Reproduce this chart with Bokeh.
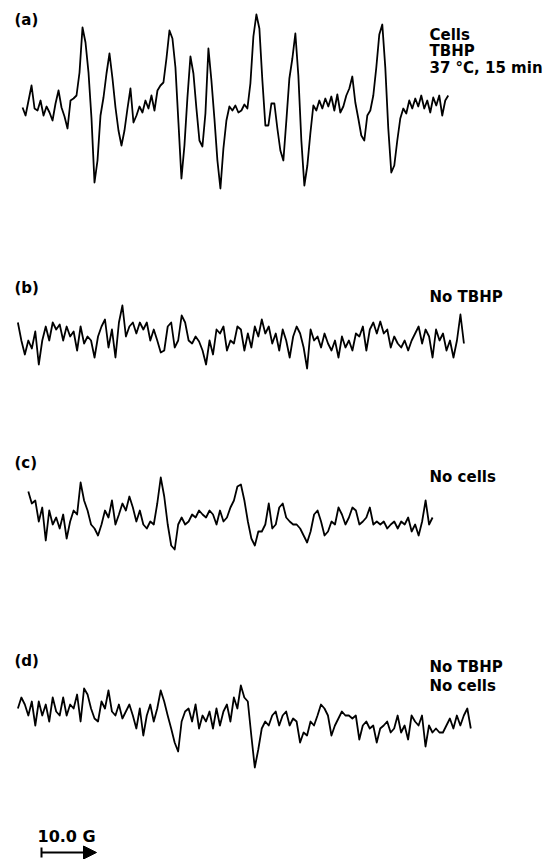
import numpy as np
from bokeh.plotting import figure
from bokeh.models import Range1d, Label, Arrow, NormalHead, TeeHead, ColumnDataSource
from bokeh.embed import file_html
from bokeh.resources import INLINE

# ---------------- data ----------------
# field sweep of each trace (G, relative field)
field_a = (1.1, 78.5)
field_b = (0.25, 81.35)
field_c = (2.15, 75.65)
field_d = (0.25, 82.6)

# EPR signal intensities (arbitrary units), evenly sampled along the sweep
int_a = [3, -5, 10, 25, 2, 0, 10, -5, 4, -2, -10, 7, 20, 3, -6, -18, 10, 12, 15, 38,
         83, 68, 38, -8, -72, -50, -5, 13, 37, 57, 32, 3, -20, -35, -20, 2, 22, -12, -5, 4,
         -2, 10, 2, 15, 0, 20, 25, 28, 52, 80, 72, 43, -12, -68, -35, 13, 54, 37, 2, -30,
         -36, -3, 62, 30, -8, -50, -78, -38, -10, 4, 0, 5, -2, 0, 6, 2, 27, 74, 96, 82,
         30, -15, -15, 7, 7, -18, -40, -50, -10, 32, 52, 77, 35, -30, -75, -55, -23, 5, 0, 10,
         2, 12, 4, 14, 0, 16, -2, 4, 15, 22, 34, 8, -8, -25, -30, -5, 0, 15, 43, 76,
         86, 43, -18, -62, -55, -30, -8, 2, -3, 10, 2, 12, 4, 15, 2, 10, -2, 13, 5, 15,
         -5, 10, 15]

int_b = [16, -2, -16, -2, -10, 7, -26, -2, 12, -2, 16, 9, 14, -2, 12, 2, 7, -12, 12, -5,
         2, -2, -19, 2, 12, 19, -9, 9, -19, 16, 33, 2, 12, 16, 5, 16, 9, 16, -2, 9,
         -2, -14, -12, 12, 16, -9, -2, 23, 16, -2, -5, 2, -3, -12, -26, -2, -16, 9, 5, 12,
         -12, -2, -5, 12, 9, -12, 5, -9, 12, 2, 19, 5, 12, -5, 5, -12, 9, -2, -19, 2,
         12, 5, -9, -30, 9, -2, 2, -9, 5, -5, -12, -2, -19, 2, -9, -2, -12, 5, 2, 12,
         -12, 9, 16, 5, 17, 5, 9, -9, 2, -5, -9, -2, -12, -2, 5, 12, -5, 9, 2, -19,
         9, -2, 5, -12, -2, -19, -2, 24, -5]

int_c = [28, 16, 19, -2, 12, -21, 9, -5, 2, -9, 5, -19, -2, 9, 5, 37, 19, 9, -5, -9,
         -16, -5, 9, 2, 19, -5, 5, 16, 9, 23, 12, -2, 9, -5, -9, -2, -5, 16, 42, 23,
         -5, -26, -30, -5, 2, -5, -2, 5, 2, 9, 5, 2, 9, 5, -5, 9, -2, 2, 12, 19,
         33, 35, 19, -2, -19, -26, -12, -12, -5, 16, -9, -5, 12, 16, 2, -2, -5, -5, -9, -16,
         -23, -12, 5, 9, -2, -16, -12, -2, -5, 12, 5, -5, 2, 12, 9, -5, -2, 2, 12, -5,
         -2, -5, -2, -9, -5, -2, -9, -2, -5, 2, -12, -5, -16, -2, 19, -5, 2]

int_d = [10, 21, 14, 3, 17, -7, 17, 3, 14, -3, 21, 7, 3, 21, 3, 14, 10, 24, -3, 30,
         24, 10, 0, -3, 17, 10, 28, 7, 3, 14, 0, 7, 14, 3, -10, 10, -17, 3, 14, -3,
         10, 28, 17, 3, -10, -24, -33, -3, 7, 10, -3, 14, -10, 3, -3, 7, -10, 10, -7, 7,
         14, -3, 21, 10, 33, 21, 17, -17, -49, -31, -10, -3, -7, 3, 7, -7, 3, 7, -7, 0,
         -3, -24, -14, -17, -3, -7, 3, 14, 10, 3, -17, -7, 0, 7, 3, 3, 0, 3, -21, -7,
         -3, -10, -7, -24, -10, -7, -3, -14, -10, 3, -14, -7, -21, 3, -3, -7, 3, -28, -7, -14,
         -10, -14, -14, -7, 0, -10, 3, -7, 3, 10, -10]

trace_names = ["(a)", "(b)", "(c)", "(d)"]
trace_notes = [["Cells", "TBHP", "37 \u00b0C, 15 min"], ["No TBHP"], ["No cells"], ["No TBHP", "No cells"]]
scale_bar_gauss = 10.0
scale_bar_text = "10.0 G"

# ---------------- layout helpers ----------------
W, H = 547, 859
PX_PER_G = 5.5
FIELD0_PX = 16.0          # page x of field zero


def fx(px):
    return (px - FIELD0_PX) / PX_PER_G


def fy(py):
    return H - py


p = figure(width=W, height=H, output_backend="svg", toolbar_location=None,
           x_range=Range1d(fx(0), fx(W)), y_range=Range1d(0, H),
           x_axis_location=None, y_axis_location=None, min_border=0)
p.grid.visible = False
p.outline_line_color = None
p.background_fill_color = "white"
p.border_fill_color = "white"

baselines_px = [110, 338, 519, 718]
fields = [field_a, field_b, field_c, field_d]
ints = [int_a, int_b, int_c, int_d]

for fld, iv, base in zip(fields, ints, baselines_px):
    iv = np.array(iv, dtype=float)
    x = np.linspace(fld[0], fld[1], len(iv))
    y = fy(base) + iv
    src = ColumnDataSource(dict(x=x, y=y))
    p.line("x", "y", source=src, line_color="black", line_width=1.8, line_join="round")

FONT = "DejaVu Sans"


def add_label(px, py, text, size="15px"):
    p.add_layout(Label(x=fx(px), y=fy(py), text=text, text_baseline="top", text_align="left",
                       text_font=FONT, text_font_style="bold", text_font_size=size,
                       text_color="black"))


name_pos = [(14, 10), (14, 278), (14, 453), (14, 651)]
for (px, py), name in zip(name_pos, trace_names):
    add_label(px, py, name)

note_pos = [(429, [25, 41, 58]), (429, [287]), (429, [467]), (429, [657, 676])]
for (px, tops), notes in zip(note_pos, trace_notes):
    for t, txt in zip(tops, notes):
        add_label(px, t, txt)

# scale bar
add_label(37, 826, scale_bar_text, size="16px")
p.add_layout(Arrow(start=TeeHead(size=10, line_width=2, line_color="black"),
                   end=NormalHead(size=13, fill_color="black", line_color="black", line_width=1),
                   x_start=fx(41), y_start=fy(852), x_end=fx(41) + scale_bar_gauss, y_end=fy(852),
                   line_width=2, line_color="black"))

open("out.html", "w").write(file_html(p, INLINE))
